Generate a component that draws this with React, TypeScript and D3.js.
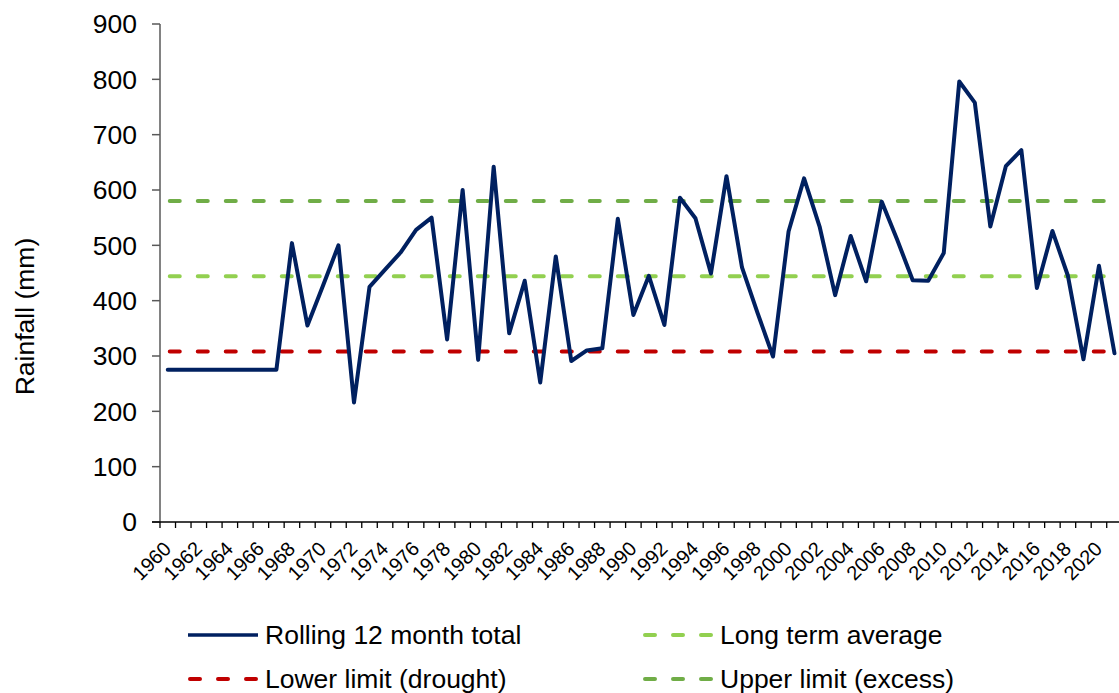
import React from "react";
import * as d3 from "d3";

const years: number[] = [
  1960, 1961, 1962, 1963, 1964, 1965, 1966, 1967, 1968, 1969,
  1970, 1971, 1972, 1973, 1974, 1975, 1976, 1977, 1978, 1979,
  1980, 1981, 1982, 1983, 1984, 1985, 1986, 1987, 1988, 1989,
  1990, 1991, 1992, 1993, 1994, 1995, 1996, 1997, 1998, 1999,
  2000, 2001, 2002, 2003, 2004, 2005, 2006, 2007, 2008, 2009,
  2010, 2011, 2012, 2013, 2014, 2015, 2016, 2017, 2018, 2019,
  2020, 2021,
];

const rolling: number[] = [
  275, 275, 275, 275, 275, 275, 275, 275, 504, 355,
  427, 500, 216, 425, 456, 487, 528, 550, 330, 600,
  293, 642, 341, 436, 252, 480, 291, 310, 314, 548,
  374, 445, 356, 586, 549, 449, 625, 460, 378, 299,
  525, 621, 534, 410, 517, 435, 579, 510, 437, 436,
  486, 796, 758, 534, 643, 672, 423, 526, 445, 294,
  463, 305,
];

const longTermAverage = 444;
const lowerLimit = 308;
const upperLimit = 580;

const yTicks: number[] = [0, 100, 200, 300, 400, 500, 600, 700, 800, 900];

const W = 1119;
const H = 693;
const FONT = "'Liberation Sans', Arial, Helvetica, sans-serif";

const NAVY = "#002060";
const RED = "#C00000";
const LIGHT_GREEN = "#92D050";
const GREEN = "#70AD47";

export default function App() {
  const x0 = 160;
  const bw = 15.52;
  const x = d3
    .scaleBand<number>()
    .domain(years)
    .range([x0, x0 + bw * years.length])
    .padding(0);
  const y = d3.scaleLinear().domain([0, 900]).range([522, 24]);
  const cx = (yr: number) => (x(yr) as number) + x.bandwidth() / 2;

  const line = d3
    .line<number>()
    .x((_, i) => cx(years[i]))
    .y((d) => y(d));

  const firstX = cx(years[0]);
  const lastX = cx(years[years.length - 1]);

  const refLines = [
    { v: upperLimit, c: GREEN },
    { v: longTermAverage, c: LIGHT_GREEN },
    { v: lowerLimit, c: RED },
  ];

  const tickPositions = d3.range(years.length + 1).map((i) => x0 + i * x.bandwidth());

  const legend = [
    { label: "Rolling 12 month total", c: NAVY, dash: false, lx: 188, ly: 635 },
    { label: "Long term average", c: LIGHT_GREEN, dash: true, lx: 643, ly: 635 },
    { label: "Lower limit (drought)", c: RED, dash: true, lx: 188, ly: 679 },
    { label: "Upper limit (excess)", c: GREEN, dash: true, lx: 643, ly: 679 },
  ];

  return (
    <svg
      width={W}
      height={H}
      style={{ position: "absolute", left: 0, top: 0, background: "#fff" }}
      fontFamily={FONT}
    >
      <rect x={0} y={0} width={W} height={H} fill="#fff" />

      {/* reference lines */}
      {refLines.map((r) => (
        <line
          key={r.v}
          x1={firstX + 2}
          x2={lastX}
          y1={y(r.v)}
          y2={y(r.v)}
          stroke={r.c}
          strokeWidth={4}
          strokeDasharray="10 18"
          strokeLinecap="round"
        />
      ))}

      {/* main line */}
      <path
        d={line(rolling) || ""}
        fill="none"
        stroke={NAVY}
        strokeWidth={4}
        strokeLinejoin="round"
        strokeLinecap="round"
      />

      {/* y axis */}
      <line x1={x0} x2={x0} y1={y(0)} y2={y(900)} stroke="#595959" strokeWidth={1.5} />
      {yTicks.map((t) => (
        <g key={t}>
          <line x1={x0 - 8} x2={x0} y1={y(t)} y2={y(t)} stroke="#595959" strokeWidth={1.5} />
          <text
            x={137}
            y={y(t)}
            dy="0.35em"
            textAnchor="end"
            fontSize={26.5}
            fill="#000"
          >
            {t}
          </text>
        </g>
      ))}

      {/* x axis */}
      <line x1={x0 - 8} x2={x0 + bw * years.length} y1={y(0)} y2={y(0)} stroke="#000" strokeWidth={1.3} />
      {tickPositions.map((p, i) => (
        <line key={i} x1={p} x2={p} y1={y(0)} y2={y(0) + 6} stroke="#000" strokeWidth={1.3} />
      ))}
      {years
        .filter((_, i) => i % 2 === 0)
        .map((yr) => {
          const px = cx(yr) + 4.5;
          const py = 550;
          return (
            <text
              key={yr}
              x={px}
              y={py}
              textAnchor="end"
              fontSize={20}
              fill="#000"
              transform={`rotate(-45 ${px} ${py})`}
            >
              {yr}
            </text>
          );
        })}

      {/* y axis title */}
      <text
        x={0}
        y={0}
        transform="translate(34 316.5) rotate(-90)"
        textAnchor="middle"
        fontSize={26.5}
        fill="#000"
      >
        Rainfall (mm)
      </text>

      {/* legend */}
      {legend.map((l) => (
        <g key={l.label}>
          <line
            x1={l.lx + (l.dash ? 2 : 0)}
            x2={l.lx + 70}
            y1={l.ly}
            y2={l.ly}
            stroke={l.c}
            strokeWidth={l.dash ? 4 : 3.5}
            strokeDasharray={l.dash ? "10 18" : undefined}
            strokeLinecap={l.dash ? "round" : "butt"}
          />
          <text x={l.lx + 77} y={l.ly + 9} fontSize={26.5} fill="#000">
            {l.label}
          </text>
        </g>
      ))}
    </svg>
  );
}
